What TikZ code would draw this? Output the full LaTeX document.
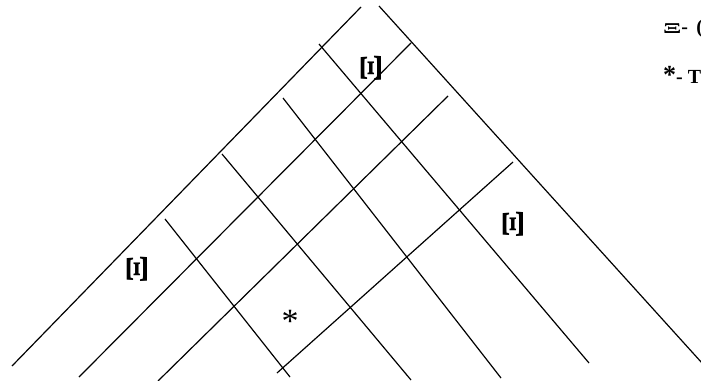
\documentclass[tikz,border=0pt]{standalone}
\usepackage{fontspec}
\setmainfont{Liberation Serif}
\begin{document}
\begin{tikzpicture}[x=1pt,y=-1pt,
  gridline/.style={line width=1.2pt, line cap=butt},
  xilabel/.style={font=\bfseries\fontsize{31}{31}\selectfont, rotate=90, inner sep=0pt},
  legend/.style={font=\bfseries\fontsize{20}{20}\selectfont, anchor=base west, inner sep=0pt}]
\useasboundingbox (0,0) rectangle (701,380);
% up-right family
\coordinate (a1s) at (12,366);  \coordinate (a1e) at (361,7);
\coordinate (a2s) at (79,377);  \coordinate (a2e) at (411,43);
\coordinate (a3s) at (158,381); \coordinate (a3e) at (448,96);
\coordinate (a4s) at (277,373); \coordinate (a4e) at (513,162);
% down-right family
\coordinate (b1s) at (379,6);   \coordinate (b1e) at (702,363);
\coordinate (b2s) at (319,44);  \coordinate (b2e) at (589,363);
\coordinate (b3s) at (283,98);  \coordinate (b3e) at (501,378);
\coordinate (b4s) at (222,154); \coordinate (b4e) at (411,380);
\coordinate (b5s) at (165,219); \coordinate (b5e) at (290,377);
\foreach \n in {a1,a2,a3,a4,b1,b2,b3,b4,b5}
  \draw[gridline] (\n s) -- (\n e);
% labels
\node[xilabel] (x1) at (371,68) {\scalebox{1.35}[1]{Ξ}};
\node[xilabel] (x2) at (513,224) {\scalebox{1.35}[1]{Ξ}};
\node[xilabel] (x3) at (137,269) {\scalebox{1.35}[1]{Ξ}};
\node[font=\fontsize{34}{34}\selectfont, inner sep=0pt] (st) at (290,321) {*};
% legend
\node[legend] (l1) at (663,33) {\fontsize{15}{15}\selectfont\scalebox{1.8}[1]{Ξ}\fontsize{20}{20}\selectfont- \,(};
\node[legend] (l2) at (663,83) {\fontsize{26}{26}\selectfont*\fontsize{20}{20}\selectfont- T};
\end{tikzpicture}
\end{document}
